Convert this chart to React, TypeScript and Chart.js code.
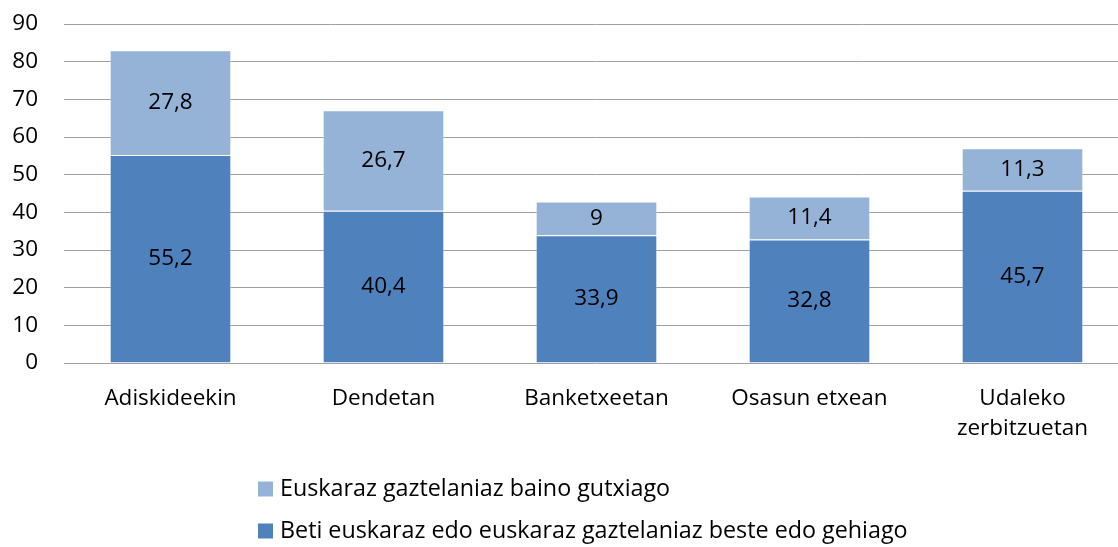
import React, { useEffect, useRef } from "react";
import { Chart, registerables } from "chart.js";

Chart.register(...registerables);

const categories: (string | string[])[] = [
  "Adiskideekin",
  "Dendetan",
  "Banketxeetan",
  "Osasun etxean",
  ["Udaleko", "zerbitzuetan"],
];
const alwaysBasque = [55.2, 40.4, 33.9, 32.8, 45.7];
const lessBasque = [27.8, 26.7, 9, 11.4, 11.3];
const seriesNames = [
  "Beti euskaraz edo euskaraz gaztelaniaz beste edo gehiago",
  "Euskaraz gaztelaniaz baino gutxiago",
];
const yTicks = [0, 10, 20, 30, 40, 50, 60, 70, 80, 90];

const DARK = "#4F81BD";
const LIGHT = "#95B3D7";
const EDGE = "rgba(255,255,255,0.35)";
const FONT = "'Open Sans', sans-serif";
const FS = 22.5;
const LEGEND_FS = 23.3;

const fmt = (v: number) => String(v).replace(".", ",");

const dataLabels = {
  id: "dataLabels",
  afterDatasetsDraw(chart: any) {
    const ctx = chart.ctx;
    ctx.save();
    ctx.font = `${FS}px ${FONT}`;
    ctx.fillStyle = "#000";
    ctx.textAlign = "center";
    ctx.textBaseline = "middle";
    chart.data.datasets.forEach((ds: any, di: number) => {
      const meta = chart.getDatasetMeta(di);
      meta.data.forEach((el: any, i: number) => {
        const y = (el.y + el.base) / 2;
        ctx.fillText(fmt(ds.data[i]), el.x, y);
      });
    });
    ctx.restore();
  },
};

const stackedLegend = {
  id: "stackedLegend",
  afterDraw(chart: any) {
    const ctx = chart.ctx;
    ctx.save();
    ctx.font = `${LEGEND_FS}px ${FONT}`;
    ctx.textBaseline = "middle";
    ctx.textAlign = "left";
    const items = [
      { text: chart.data.datasets[1].label, color: chart.data.datasets[1].backgroundColor, y: 489 },
      { text: chart.data.datasets[0].label, color: chart.data.datasets[0].backgroundColor, y: 531 },
    ];
    items.forEach((it) => {
      ctx.fillStyle = it.color;
      ctx.fillRect(258, it.y - 7.5, 15, 15);
      ctx.fillStyle = "#000";
      ctx.fillText(it.text, 280, it.y);
    });
    ctx.restore();
  },
};

export default function App() {
  const ref = useRef<HTMLCanvasElement>(null);
  useEffect(() => {
    if (!ref.current) return;
    const chart = new Chart(ref.current, {
      type: "bar",
      data: {
        labels: categories,
        datasets: [
          {
            label: seriesNames[0],
            data: alwaysBasque,
            backgroundColor: DARK,
            borderColor: EDGE,
            borderWidth: 1,
            categoryPercentage: 1,
            barPercentage: 0.571,
          },
          {
            label: seriesNames[1],
            data: lessBasque,
            backgroundColor: LIGHT,
            borderColor: EDGE,
            borderWidth: 1,
            categoryPercentage: 1,
            barPercentage: 0.571,
          },
        ],
      },
      options: {
        animation: false,
        responsive: false,
        layout: { padding: { top: 24, right: 1, left: 0, bottom: 0 } },
        plugins: {
          legend: { display: false },
          tooltip: { enabled: false },
        },
        scales: {
          x: {
            stacked: true,
            grid: { display: false, drawTicks: false },
            border: { display: false },
            ticks: {
              color: "#000",
              font: { family: FONT, size: FS, lineHeight: 1.33 },
              padding: 21,
              maxRotation: 0,
              autoSkip: false,
            },
            afterFit: (s: any) => {
              s.height = 184;
            },
          },
          y: {
            stacked: true,
            min: 0,
            max: 90,
            afterBuildTicks: (s: any) => {
              s.ticks = yTicks.map((v) => ({ value: v }));
            },
            grid: { color: "#A0A0A0", lineWidth: 1, drawTicks: false },
            border: { display: false },
            ticks: {
              color: "#000",
              font: { family: FONT, size: FS },
              padding: 26,
            },
            afterFit: (s: any) => {
              s.width = 64;
              s.paddingTop = 0;
              s.paddingBottom = 0;
            },
          },
        },
      },
      plugins: [dataLabels, stackedLegend],
    });
    return () => chart.destroy();
  }, []);
  return (
    <div
      style={{
        position: "absolute",
        left: 0,
        top: 0,
        width: 1118,
        height: 547,
        overflow: "hidden",
        background: "#fff",
      }}
    >
      <canvas ref={ref} width={1130} height={547} />
    </div>
  );
}
